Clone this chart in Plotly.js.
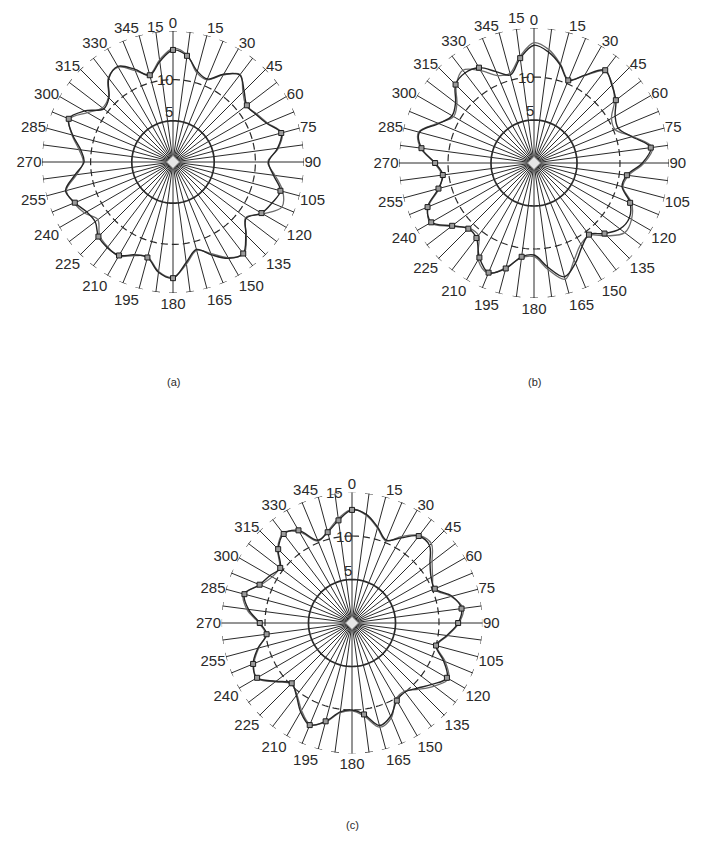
<!DOCTYPE html>
<html>
<head>
<meta charset="utf-8">
<script src="https://cdn.plot.ly/plotly-3.0.1.min.js"></script>
<style>
  html, body { margin: 0; padding: 0; background: #fff; }
  #chart { width: 702px; height: 845px; }
</style>
</head>
<body>
<div id="chart"></div>
<script>
// Spoke angles (degrees, clockwise from north) at which the profiles are sampled
const angleDeg = [0, 7.5, 15, 22.5, 30, 37.5, 45, 52.5, 60, 67.5, 75, 82.5,
  90, 97.5, 105, 112.5, 120, 127.5, 135, 142.5, 150, 157.5, 165, 172.5,
  180, 187.5, 195, 202.5, 210, 217.5, 225, 232.5, 240, 247.5, 255, 262.5,
  270, 277.5, 285, 292.5, 300, 307.5, 315, 322.5, 330, 337.5, 345, 352.5];

// Angles that carry a printed label
const labelAngles = [0, 15, 30, 45, 60, 75, 90, 105, 120, 135, 150, 165,
  180, 195, 210, 225, 240, 255, 270, 285, 300, 315, 330, 345];

// Radial tick values
const radialTicks = [5, 10, 15];

// Panel (a)
const aMarked = [13.6, 13.0, 11.4, 10.9, 12.3, 13.3, 12.2, 11.3, 11.6, 12.3, 13.6, 12.8,
  11.6, 12.3, 13.5, 13.0, 12.4, 11.2, 12.5, 14.0, 13.5, 12.2, 11.0, 12.3,
  14.1, 13.5, 12.0, 12.2, 13.1, 13.1, 12.8, 11.9, 12.1, 12.9, 13.5, 12.0,
  10.8, 11.3, 12.6, 13.7, 12.4, 10.6, 11.0, 12.8, 13.4, 12.2, 10.9, 12.3];
const aSmooth = [13.8, 13.1, 11.2, 10.8, 12.2, 13.4, 12.0, 11.2, 11.7, 12.4, 13.7, 12.9,
  11.5, 12.5, 13.8, 14.3, 12.6, 11.1, 12.6, 14.1, 13.4, 12.0, 11.1, 12.5,
  14.0, 13.4, 11.9, 12.3, 13.2, 13.0, 12.6, 11.5, 12.4, 13.0, 13.4, 11.8,
  10.9, 11.5, 12.7, 13.6, 12.0, 10.8, 11.1, 12.9, 13.3, 12.0, 11.0, 12.5];
const aSymbolAt = [0, 7.5, 52.5, 75, 105, 120, 142.5, 180, 195, 210, 225, 247.5, 292.5, 345];

// Panel (b)
const bMarked = [13.7, 13.0, 11.8, 10.4, 11.8, 13.6, 12.8, 12.0, 10.9, 10.6, 11.8, 13.7,
  12.6, 10.9, 10.6, 12.1, 12.8, 12.6, 11.6, 10.5, 11.2, 12.6, 13.7, 12.2,
  10.7, 11.0, 12.7, 13.8, 12.7, 11.0, 10.8, 12.0, 13.8, 13.4, 11.5, 10.7,
  11.5, 13.2, 13.8, 12.0, 11.0, 11.5, 12.9, 13.2, 12.8, 11.5, 10.6, 12.3];
const bSmooth = [14.0, 13.3, 11.9, 10.5, 11.7, 13.5, 12.9, 11.8, 10.4, 10.2, 11.9, 13.9,
  12.8, 11.1, 10.7, 12.3, 13.1, 13.3, 12.0, 10.6, 10.9, 12.2, 14.0, 12.5,
  10.9, 11.1, 12.6, 13.9, 13.0, 10.6, 10.7, 12.1, 13.9, 13.3, 11.4, 10.8,
  11.6, 13.3, 13.9, 12.1, 10.8, 11.3, 12.8, 13.6, 12.4, 11.0, 10.8, 12.5];
const bSymbolAt = [22.5, 37.5, 52.5, 82.5, 97.5, 112.5, 135, 142.5, 187.5, 195, 202.5, 210,
  217.5, 225, 232.5, 240, 247.5, 255, 262.5, 270, 277.5, 315, 330, 352.5];

// Panel (c)
const cMarked = [13.0, 12.6, 11.4, 10.3, 11.3, 12.6, 12.6, 11.3, 10.5, 10.3, 11.9, 12.7,
  12.2, 11.0, 10.0, 11.4, 12.6, 11.6, 10.6, 10.0, 10.3, 11.6, 12.2, 10.6,
  10.0, 10.3, 11.7, 12.7, 11.8, 10.5, 9.8, 11.0, 12.6, 12.3, 11.2, 9.9,
  10.6, 12.0, 12.8, 11.5, 10.9, 10.4, 12.0, 12.9, 12.3, 10.3, 10.8, 11.9];
const cSmooth = [13.1, 12.5, 11.3, 10.2, 11.5, 12.7, 12.9, 11.6, 10.7, 10.2, 11.8, 12.9,
  12.3, 11.1, 10.1, 11.6, 12.8, 11.9, 10.8, 9.9, 10.1, 11.8, 12.4, 10.8,
  10.1, 10.4, 11.8, 12.6, 11.6, 10.4, 9.9, 11.1, 12.7, 12.2, 11.1, 10.0,
  10.7, 12.2, 12.9, 11.4, 10.6, 10.5, 12.1, 13.0, 12.1, 10.2, 10.9, 12.1];
const cSymbolAt = [0, 37.5, 67.5, 82.5, 90, 105, 120, 150, 172.5, 195, 202.5, 225,
  240, 247.5, 262.5, 270, 285, 292.5, 307.5, 315, 322.5, 330, 345, 352.5];

const FONT = 'Liberation Sans, Arial, sans-serif';
const INK = '#2a2a2a';
const W = 702, H = 845;

// Panel geometry in page pixels: centre, outer (spoke-end) radius, radial max,
// and how far above the centre the outermost radial label sits
const panels = [
  { key: 'polar',  cx: 173, cy: 162, rad: 131,   rmax: 15.9, topLabel: 135, marked: aMarked, smooth: aSmooth, symbolAt: aSymbolAt, cap: '(a)', capY: 382 },
  { key: 'polar2', cx: 534, cy: 163, rad: 135,   rmax: 15.7, topLabel: 146, marked: bMarked, smooth: bSmooth, symbolAt: bSymbolAt, cap: '(b)', capY: 382 },
  { key: 'polar3', cx: 352, cy: 623, rad: 130.5, rmax: 15.0, topLabel: 130, marked: cMarked, smooth: cSmooth, symbolAt: cSymbolAt, cap: '(c)', capY: 825 }
];

const closeLoop = arr => arr.concat([arr[0]]);
const thetaClosed = angleDeg.concat([360]);
const tickText = angleDeg.map(a => labelAngles.includes(a) ? String(a) : '');

const traces = [];
const layout = {
  width: W, height: H,
  margin: { l: 0, r: 0, t: 0, b: 0 },
  paper_bgcolor: '#fff',
  showlegend: false,
  font: { family: FONT, color: INK },
  annotations: []
};

panels.forEach(p => {
  const sub = p.key;
  const unit = p.rad / p.rmax;          // pixels per radial unit

  // reference circles: solid at 5, dashed at 10
  const ring = [];
  for (let t = 0; t <= 360; t += 2) ring.push(t);
  traces.push({ type: 'scatterpolar', subplot: sub, mode: 'lines', hoverinfo: 'skip',
    r: ring.map(() => radialTicks[0]), theta: ring,
    line: { color: INK, width: 1.7 } });
  traces.push({ type: 'scatterpolar', subplot: sub, mode: 'lines', hoverinfo: 'skip',
    r: ring.map(() => radialTicks[1]), theta: ring,
    line: { color: INK, width: 1.2, dash: '7px,4px' } });

  // T-shaped end caps on every spoke
  const halfW = 4 / unit;
  const rc = Math.sqrt(p.rmax * p.rmax + halfW * halfW);
  const dt = Math.atan(halfW / p.rmax) * 180 / Math.PI;
  const capR = [], capT = [];
  angleDeg.forEach(a => { capR.push(rc, rc, null); capT.push(a - dt, a + dt, null); });
  traces.push({ type: 'scatterpolar', subplot: sub, mode: 'lines', hoverinfo: 'skip',
    cliponaxis: false, connectgaps: false,
    r: capR, theta: capT, line: { color: INK, width: 1.1 } });

  // smoothed profile
  traces.push({ type: 'scatterpolar', subplot: sub, mode: 'lines',
    r: closeLoop(p.smooth), theta: thetaClosed,
    line: { color: '#6d6d6d', width: 1.3, shape: 'spline', smoothing: 1 } });

  // measured profile
  traces.push({ type: 'scatterpolar', subplot: sub, mode: 'lines',
    r: closeLoop(p.marked), theta: thetaClosed,
    line: { color: '#262626', width: 1.4, shape: 'spline', smoothing: 1 } });

  // square symbols on the measured profile
  traces.push({ type: 'scatterpolar', subplot: sub, mode: 'markers',
    r: p.symbolAt.map(a => p.marked[angleDeg.indexOf(a)]), theta: p.symbolAt,
    marker: { symbol: 'square', size: 5, color: '#9a9a9a', line: { color: '#1e1e1e', width: 1 } } });

  // centre marker
  traces.push({ type: 'scatterpolar', subplot: sub, mode: 'markers', hoverinfo: 'skip',
    r: [0], theta: [0],
    marker: { symbol: 'diamond', size: 10, color: '#e6e6e6', line: { color: '#9a9a9a', width: 1 } } });

  layout[sub] = {
    domain: {
      x: [(p.cx - p.rad) / W, (p.cx + p.rad) / W],
      y: [1 - (p.cy + p.rad) / H, 1 - (p.cy - p.rad) / H]
    },
    bgcolor: 'rgba(0,0,0,0)',
    radialaxis: {
      range: [0, p.rmax],
      showticklabels: false, showgrid: false, showline: false, ticks: '', angle: 90
    },
    angularaxis: {
      rotation: 90, direction: 'clockwise',
      tickmode: 'array', tickvals: angleDeg, ticktext: tickText,
      showgrid: true, gridcolor: INK, gridwidth: 1,
      showline: false, ticks: '',
      tickfont: { family: FONT, size: 15, color: INK }
    }
  };

  // radial tick labels beside the 0° spoke
  const radialLabel = (txt, xRight, yPx, yAnchor) => ({
    text: txt, xref: 'paper', yref: 'paper', showarrow: false,
    x: xRight / W, y: 1 - yPx / H, xanchor: 'right', yanchor: yAnchor,
    borderpad: 0, font: { family: FONT, size: 15, color: INK }
  });
  layout.annotations.push(radialLabel(String(radialTicks[0]), p.cx + 1, p.cy - radialTicks[0] * unit, 'bottom'));
  layout.annotations.push(radialLabel(String(radialTicks[1]), p.cx + 2, p.cy - radialTicks[1] * unit, 'middle'));
  layout.annotations.push(radialLabel(String(radialTicks[2]), p.cx - 8, p.cy - p.topLabel, 'middle'));

  layout.annotations.push({
    text: p.cap, xref: 'paper', yref: 'paper',
    x: p.cx / W, y: 1 - p.capY / H, showarrow: false,
    xanchor: 'center', yanchor: 'middle',
    font: { family: FONT, size: 11, color: INK }
  });
});

Plotly.newPlot('chart', traces, layout, { staticPlot: true, displayModeBar: false });
</script>
</body>
</html>
